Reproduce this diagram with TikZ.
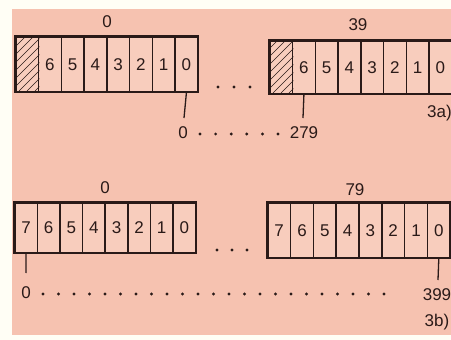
\documentclass[tikz,border=0pt]{standalone}
\usepackage{fontspec}
\setmainfont{Liberation Sans}
\definecolor{bgpink}{HTML}{F6C2B0}
\definecolor{cellpink}{HTML}{F8CDBD}
\definecolor{ink}{HTML}{2A1A18}
\tikzset{
  cellbox/.style={draw=ink, line width=1.6pt, fill=cellpink},
  digit/.style={font=\fontsize{17}{17}\selectfont, text=ink, inner sep=0pt},
  tickline/.style={draw=ink, line width=1.3pt},
  dotmark/.style={fill=ink, circle, inner sep=0pt, minimum size=3.2pt},
}
\begin{document}
\begin{tikzpicture}[x=1pt,y=-1pt]
\useasboundingbox (0,0) rectangle (451,340);
\fill[white!96!yellow] (0,0) rectangle (451,340);
\fill[bgpink] (12,9) rectangle (451,335);

% ---------- 3a left box ----------
\foreach \i/\t in {0/,1/6,2/5,3/4,4/3,5/2,6/1,7/0}{
  \node[cellbox, minimum width=22.75pt, minimum height=55pt, inner sep=0pt, anchor=north west]
    (al\i) at ({15+22.75*\i},36) {};
  \node[digit] at (al\i.center) {\t};
}
\begin{scope}
  \clip (al0.south west) rectangle (al0.north east);
  \foreach \k in {-60,-52,...,30}{ \draw[ink, line width=0.7pt] ({15+\k},91) -- ({15+\k+60},31); }
\end{scope}
\draw[cellbox, fill=none] (al0.north west) rectangle (al7.south east);
\node[digit] (alab) at (107,22) {0};

% ---------- 3a right box ----------
\foreach \i/\t in {0/,1/6,2/5,3/4,4/3,5/2,6/1,7/0}{
  \node[cellbox, minimum width=22.75pt, minimum height=53pt, inner sep=0pt, anchor=north west]
    (ar\i) at ({269+22.75*\i},40) {};
  \node[digit] at (ar\i.center) {\t};
}
\begin{scope}
  \clip (ar0.south west) rectangle (ar0.north east);
  \foreach \k in {-60,-52,...,30}{ \draw[ink, line width=0.7pt] ({269+\k},93) -- ({269+\k+60},33); }
\end{scope}
\draw[cellbox, fill=none] (ar0.north west) rectangle (ar7.south east);
\node[digit] (arlab) at (358,25) {39};

% between-box dots 3a
\foreach \x in {218,234,250}{ \node[dotmark] at (\x,87) {}; }

% ticks and range 3a
\node[digit] (a0) at (183,133) {0};
\node[digit] (a279) at (304,133) {279};
\coordinate (at1) at (184,118);
\coordinate (at2) at (303,118);
\draw[tickline] (al7.south) -- (at1);
\draw[tickline] (ar1.south) -- (at2);
\foreach \x in {200,215.6,231.2,246.8,262.4,278}{ \node[dotmark] at (\x,134) {}; }
\node[digit, anchor=east] (a3a) at (452,113) {3a)};

% ---------- 3b left box ----------
\foreach \i/\t in {0/7,1/6,2/5,3/4,4/3,5/2,6/1,7/0}{
  \node[cellbox, minimum width=22.6pt, minimum height=50pt, inner sep=0pt, anchor=north west]
    (bl\i) at ({14+22.6*\i},202) {};
  \node[digit] at (bl\i.center) {\t};
}
\draw[cellbox, fill=none] (bl0.north west) rectangle (bl7.south east);
\node[digit] (blab) at (105,188) {0};

% ---------- 3b right box ----------
\foreach \i/\t in {0/7,1/6,2/5,3/4,4/3,5/2,6/1,7/0}{
  \node[cellbox, minimum width=22.8pt, minimum height=55pt, inner sep=0pt, anchor=north west]
    (br\i) at ({267+22.8*\i},202) {};
  \node[digit] at (br\i.center) {\t};
}
\draw[cellbox, fill=none] (br0.north west) rectangle (br7.south east);
\node[digit] (brlab) at (355,190) {79};

% between-box dots 3b
\foreach \x in {217,232,247}{ \node[dotmark] at (\x,250) {}; }

% ticks and range 3b
\node[digit] (b0) at (26,293) {0};
\node[digit] (b399) at (437,295) {399};
\coordinate (bt1) at (26,273);
\coordinate (bt2) at (438,280);
\draw[tickline] (bl0.south) -- (bt1);
\draw[tickline] (br7.south) -- (bt2);
\foreach \n in {0,...,22}{ \node[dotmark] at ({43+15.5*\n},294) {}; }
\node[digit] (b3b) at (437,322) {3b)};
\end{tikzpicture}
\end{document}
